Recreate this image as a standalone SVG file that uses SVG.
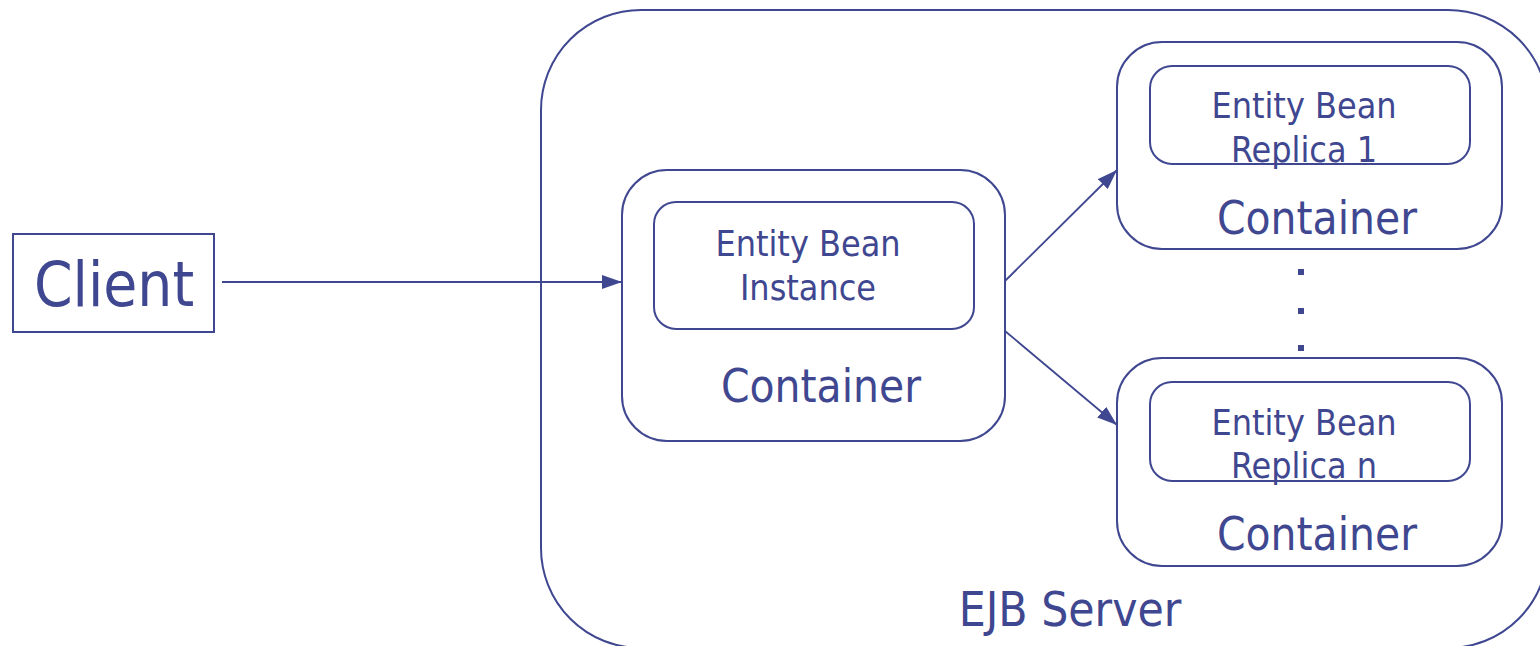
<svg xmlns="http://www.w3.org/2000/svg" width="1540" height="646" viewBox="0 0 1540 646">
<style>
.box{fill:none;stroke:#3f4790;stroke-width:2}
.conn{stroke:#3f4790;stroke-width:1.8;fill:none}
text{font-family:"DejaVu Sans Condensed","DejaVu Sans",sans-serif;fill:#3f4790;text-anchor:middle}
.s{font-size:35.6px}
.m{font-size:45.5px}
.e{font-size:47.5px}
.l{font-size:61.5px}
</style>
<defs>
<marker id="ah" viewBox="0 0 20 14" refX="20" refY="7" markerWidth="20" markerHeight="14" markerUnits="userSpaceOnUse" orient="auto">
<path d="M0,0 L20,7 L0,14 Z" fill="#3f4790"/>
</marker>
</defs>
<rect width="1540" height="646" fill="#ffffff"/>
<g id="ejb-server">
<rect class="box" x="541" y="10" width="1007" height="638" rx="100" ry="100"/>
<text class="e" x="1070" y="626">EJB Server</text>
</g>
<g id="client">
<rect class="box" x="13" y="234" width="201" height="98"/>
<text class="l" x="114" y="306">Client</text>
</g>
<g id="container-main">
<rect class="box" x="622" y="170" width="383" height="271" rx="45" ry="45"/>
<rect class="box" x="654" y="202" width="320" height="127" rx="22" ry="22"/>
<text class="s" x="808" y="256">Entity Bean</text>
<text class="s" x="808" y="300">Instance</text>
<text class="m" x="821" y="402">Container</text>
</g>
<g id="container-replica1">
<rect class="box" x="1117" y="42" width="385" height="207" rx="45" ry="45"/>
<rect class="box" x="1150" y="66" width="320" height="98" rx="22" ry="22"/>
<text class="s" x="1304" y="118">Entity Bean</text>
<text class="s" x="1304" y="162">Replica 1</text>
<text class="m" x="1317" y="234">Container</text>
</g>
<g id="container-replican">
<rect class="box" x="1117" y="358" width="385" height="208" rx="45" ry="45"/>
<rect class="box" x="1150" y="382" width="320" height="99" rx="22" ry="22"/>
<text class="s" x="1304" y="435">Entity Bean</text>
<text class="s" x="1304" y="478">Replica n</text>
<text class="m" x="1317" y="550">Container</text>
</g>
<g id="ellipsis" fill="#3f4790">
<rect x="1298" y="269" width="6" height="6"/>
<rect x="1298" y="308" width="6" height="6"/>
<rect x="1298" y="345" width="6" height="6"/>
</g>
<g id="connectors">
<line class="conn" x1="222" y1="282" x2="622" y2="282" marker-end="url(#ah)"/>
<line class="conn" x1="1005" y1="281" x2="1117" y2="170" marker-end="url(#ah)"/>
<line class="conn" x1="1005" y1="331" x2="1117" y2="425" marker-end="url(#ah)"/>
</g>
</svg>
